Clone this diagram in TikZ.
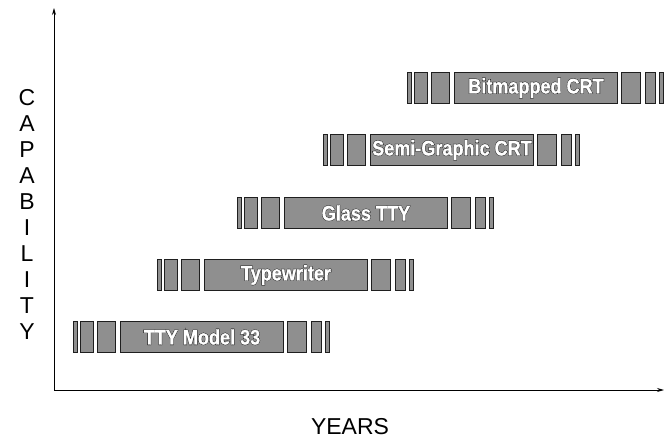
\documentclass[tikz,border=0pt]{standalone}
\usepackage{fontspec}
\setmainfont{Liberation Sans}
\newfontfamily\barback{Liberation Sans Bold}[FakeStretch=0.86,FakeBold=5]
\newfontfamily\barfront{Liberation Sans Bold}[FakeStretch=0.86,FakeBold=1.5]
\usetikzlibrary{arrows.meta,calc}
\definecolor{BarClr}{gray}{0.56}
\definecolor{EdgeClr}{gray}{0.12}

\newcommand{\Outlined}[1]{\leavevmode\rlap{\color{black}\barback #1}{\color{white}\barfront #1}}

\begin{document}
\begin{tikzpicture}[x=1pt,y=-1pt,
  seg/.style={draw=EdgeClr,fill=BarClr,line width=1pt},
  axis/.style={line width=0.8pt,-{Stealth[length=7pt,width=4pt]}},
  lbl/.style={font=\fontsize{23}{23}\selectfont,inner sep=0pt}]
\useasboundingbox (0,0) rectangle (664,442);

% axes
\coordinate (O) at (54,390);
\coordinate (Ytip) at (54,8);
\coordinate (Xtip) at (664,390);
\draw[axis] (O) -- (Ytip);
\draw[axis] (O) -- (Xtip);

% axis labels
\foreach \ch [count=\i from 0] in {C,A,P,A,B,I,L,I,T,Y}
  \node[lbl] (cap\i) at (27,98+26*\i) {\ch};
\node[lbl] (years) at (350,427) {YEARS};

% bars
\foreach \sx/\cy/\txt [count=\r] in {73/337/TTY Model 33,157/275/Typewriter,237/213/Glass TTY,323/150/Semi-Graphic CRT,407/88/Bitmapped CRT}{
  \foreach \a/\b in {0/4,7/20,24/42,214/233,238/248,252/256}
    \draw[seg] (\sx+\a,\cy-15.5) rectangle (\sx+\b,\cy+15.5);
  \node[seg,minimum width=163pt,minimum height=31pt,inner sep=0pt,anchor=west,
    font=\fontsize{21}{21}\selectfont] (bar\r) at (\sx+47,\cy) {\Outlined{\txt}};
}

\end{tikzpicture}
\end{document}
